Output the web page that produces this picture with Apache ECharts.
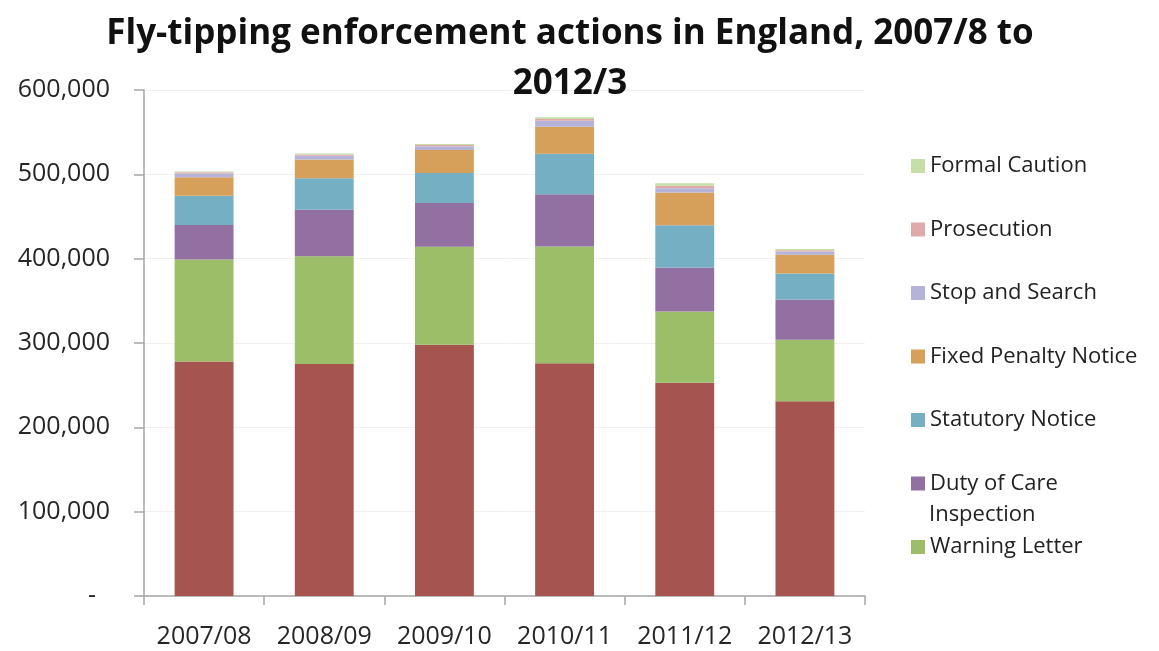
<!DOCTYPE html>
<html>
<head>
<meta charset="utf-8">
<script src="https://cdn.jsdelivr.net/npm/echarts@6/dist/echarts.min.js"></script>
<style>
  html, body { margin: 0; padding: 0; background: #ffffff; }
  #chart { width: 1159px; height: 651px; }
</style>
</head>
<body>
<div id="chart"></div>
<script>
const categories = ['2007/08', '2008/09', '2009/10', '2010/11', '2011/12', '2012/13'];
const investigation = [278000, 275000, 298000, 276000, 253000, 231000];
const warningLetter = [121000, 128000, 116000, 138500, 84500, 73000];
const dutyOfCare = [41000, 55000, 52000, 62000, 52000, 47500];
const statutoryNotice = [34500, 37500, 35500, 48000, 50000, 31000];
const fixedPenalty = [22000, 22000, 27500, 32000, 39000, 22000];
const stopAndSearch = [4500, 4500, 4300, 7000, 5000, 4000];
const prosecution = [1500, 1500, 1600, 2000, 3000, 1500];
const formalCaution = [1000, 1200, 1200, 2300, 3000, 1500];
const yTicks = [0, 100000, 200000, 300000, 400000, 500000, 600000];

const seriesDefs = [
  { name: 'Investigation', data: investigation, color: '#A65450' },
  { name: 'Warning Letter', data: warningLetter, color: '#9DBE68' },
  { name: 'Duty of Care', data: dutyOfCare, color: '#9370A2' },
  { name: 'Statutory Notice', data: statutoryNotice, color: '#74AFC3' },
  { name: 'Fixed Penalty Notice', data: fixedPenalty, color: '#D69F5A' },
  { name: 'Stop and Search', data: stopAndSearch, color: '#B5B3D8' },
  { name: 'Prosecution', data: prosecution, color: '#E0AAAA' },
  { name: 'Formal Caution', data: formalCaution, color: '#C6DEA8' }
];

const chart = echarts.init(document.getElementById('chart'), null, { renderer: 'canvas' });
const font = "'Open Sans', 'Liberation Sans', sans-serif";

chart.setOption({
  backgroundColor: '#ffffff',
  animation: false,
  title: {
    text: 'Fly-tipping enforcement actions in England, 2007/8 to\n2012/3',
    left: 565,
    top: 4,
    textAlign: 'center',
    textStyle: { fontFamily: font, fontSize: 35, fontWeight: 'bold', color: '#111111', lineHeight: 50 }
  },
  legend: {
    orient: 'vertical',
    left: 906,
    top: 149,
    itemWidth: 14,
    itemHeight: 14,
    itemGap: 39.5,
    icon: 'rect',
    data: ['Formal Caution', 'Prosecution', 'Stop and Search', 'Fixed Penalty Notice', 'Statutory Notice', 'Duty of Care', 'Warning Letter'],
    textStyle: { fontFamily: font, fontSize: 22, color: '#222222', lineHeight: 24 }
  },
  graphic: [{
    type: 'text',
    left: 929,
    top: 504,
    style: { text: 'Inspection', fontFamily: font, fontSize: 22, fill: '#222222' }
  }],
  grid: { left: 144, right: 294, top: 90, bottom: 55, containLabel: false },
  xAxis: {
    type: 'category',
    data: categories,
    axisLine: { lineStyle: { color: '#A6A6A6', width: 1.5 } },
    axisTick: { show: true, length: 9, lineStyle: { color: '#A6A6A6', width: 1.5 } },
    axisLabel: { fontFamily: font, fontSize: 25, color: '#262626', margin: 28, interval: 0, hideOverlap: false }
  },
  yAxis: {
    type: 'value',
    min: yTicks[0],
    max: yTicks[yTicks.length - 1],
    interval: yTicks[1] - yTicks[0],
    axisLine: { show: true, lineStyle: { color: '#A6A6A6', width: 1.5 } },
    axisTick: { show: true, length: 10, lineStyle: { color: '#A6A6A6', width: 1.5 } },
    splitLine: { show: true, lineStyle: { color: '#F0F0F0', width: 1 } },
    axisLabel: {
      fontFamily: font, fontSize: 25, color: '#262626', margin: 34,
      formatter: v => v === 0 ? '{d|-}' : v.toLocaleString('en-US'),
      rich: { d: { fontFamily: font, fontSize: 25, color: '#262626', padding: [0, 14, 0, 0] } }
    }
  },
  series: seriesDefs.map(s => ({
    name: s.name,
    type: 'bar',
    stack: 'total',
    data: s.data,
    barWidth: '49%',
    itemStyle: { color: s.color },
    emphasis: { disabled: true }
  }))
});
</script>
</body>
</html>
